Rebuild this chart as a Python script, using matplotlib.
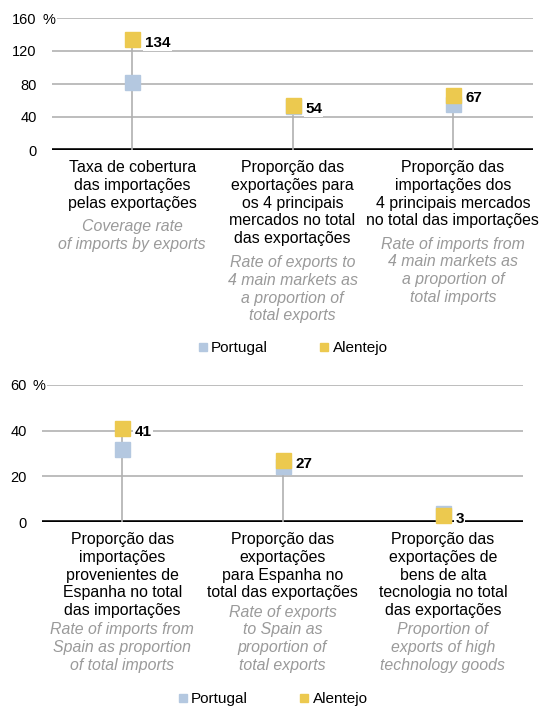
import matplotlib.pyplot as plt
from matplotlib.lines import Line2D
from matplotlib.transforms import blended_transform_factory

plt.rcParams['font.family'] = ['Liberation Sans', 'DejaVu Sans']

# --- data ---
top_pt_labels = ["Taxa de cobertura\ndas importações\npelas exportações",
                 "Proporção das\nexportações para\nos 4 principais\nmercados no total\ndas exportações",
                 "Proporção das\nimportações dos\n4 principais mercados\nno total das importações"]
top_en_labels = ["Coverage rate\nof imports by exports",
                 "Rate of exports to\n4 main markets as\na proportion of\ntotal exports",
                 "Rate of imports from\n4 main markets as\na proportion of\ntotal imports"]
top_portugal = [82, 53, 56]
top_alentejo = [134, 54, 67]
top_ticks = [0, 40, 80, 120, 160]

bot_pt_labels = ["Proporção das\nimportações\nprovenientes de\nEspanha no total\ndas importações",
                 "Proporção das\nexportações\npara Espanha no\ntotal das exportações",
                 "Proporção das\nexportações de\nbens de alta\ntecnologia no total\ndas exportações"]
bot_en_labels = ["Rate of imports from\nSpain as proportion\nof total imports",
                 "Rate of exports\nto Spain as\nproportion of\ntotal exports",
                 "Proportion of\nexports of high\ntechnology goods"]
bot_portugal = [32, 24.5, 3.8]
bot_alentejo = [41, 27, 3]
bot_ticks = [0, 20, 40, 60]

c_pt = '#b4c8e0'
c_al = '#ecc94f'
c_en = '#9a9a9a'

W, H = 550, 707
fig = plt.figure(figsize=(W / 100, H / 100), dpi=100)

PITCH = 17.4  # px between text lines
LS = 1.23
FS = 11.4


def draw_panel(rect, portugal, alentejo, ticks, pt_labels, en_labels, gap):
    left, y0, width, height = rect
    ax = fig.add_axes([left / W, (H - y0) / H, width / W, height / H])
    x = list(range(len(portugal)))
    ax.set_xlim(-0.5, len(portugal) - 0.5)
    ax.set_ylim(0, ticks[-1])
    ax.set_yticks(ticks)
    ax.set_yticklabels([str(t) for t in ticks], fontsize=10.5)
    ax.tick_params(axis='y', length=0, pad=11)
    ax.set_xticks([])
    for s in ax.spines.values():
        s.set_visible(False)
    ax.yaxis.grid(True, color='#b8b8b8', lw=1.3)
    ax.set_axisbelow(True)
    ax.axhline(0, color='black', lw=2.6, zorder=2)
    # "%" after the top tick
    ax.annotate('%', xy=(0, ticks[-1]), xycoords=('axes fraction', 'data'),
                xytext=(-7, 0), textcoords='offset points', ha='left',
                va='center_baseline', fontsize=10.5,
                bbox=dict(facecolor='white', edgecolor='none', pad=1))

    stem_top = [max(p, a) for p, a in zip(portugal, alentejo)]
    ax.vlines(x, 0, stem_top, color='#b0b0b0', lw=1.2, zorder=3)
    ax.plot(x, portugal, 's', color=c_pt, ms=10.8, ls='none', zorder=4, clip_on=False)
    ax.plot(x, alentejo, 's', color=c_al, ms=10.8, ls='none', zorder=5, clip_on=False)
    for i, v in enumerate(alentejo):
        ax.annotate(str(v), xy=(i, v), xytext=(9, -2.5), textcoords='offset points',
                    ha='left', va='center', fontsize=11, fontweight='bold', zorder=6,
                    bbox=dict(facecolor='white', edgecolor='none', pad=1))

    trans = blended_transform_factory(ax.transData, ax.transAxes)
    for i, (pt, en) in enumerate(zip(pt_labels, en_labels)):
        ax.annotate(pt, xy=(i, 0), xycoords=trans, xytext=(0, -10 * 0.72),
                    textcoords='offset points', ha='center', va='top',
                    fontsize=FS, linespacing=LS, annotation_clip=False)
        n = pt.count('\n') + 1
        off = 10 + n * PITCH + gap[i]
        ax.annotate(en, xy=(i, 0), xycoords=trans, xytext=(0, -off * 0.72),
                    textcoords='offset points', ha='center', va='top',
                    fontsize=FS, linespacing=LS, style='italic', color=c_en,
                    annotation_clip=False)
    return ax


draw_panel((52, 150, 481, 132), top_portugal, top_alentejo, top_ticks,
           top_pt_labels, top_en_labels, [7, 8, 7])
draw_panel((42, 522, 481, 137), bot_portugal, bot_alentejo, bot_ticks,
           bot_pt_labels, bot_en_labels, [3, 3, 3])

handles = [Line2D([], [], marker='s', ls='none', color=c_pt, ms=6),
           Line2D([], [], marker='s', ls='none', color=c_al, ms=6)]
for cx, cy in [(293, 348), (273, 699)]:
    fig.legend(handles, ['Portugal', 'Alentejo'], loc='center',
               bbox_to_anchor=(cx / W, 1 - cy / H), ncol=2, frameon=False,
               fontsize=11, handlelength=0.6, handletextpad=0.25,
               columnspacing=3.4, borderpad=0)

fig.savefig('out.png', dpi=100)
